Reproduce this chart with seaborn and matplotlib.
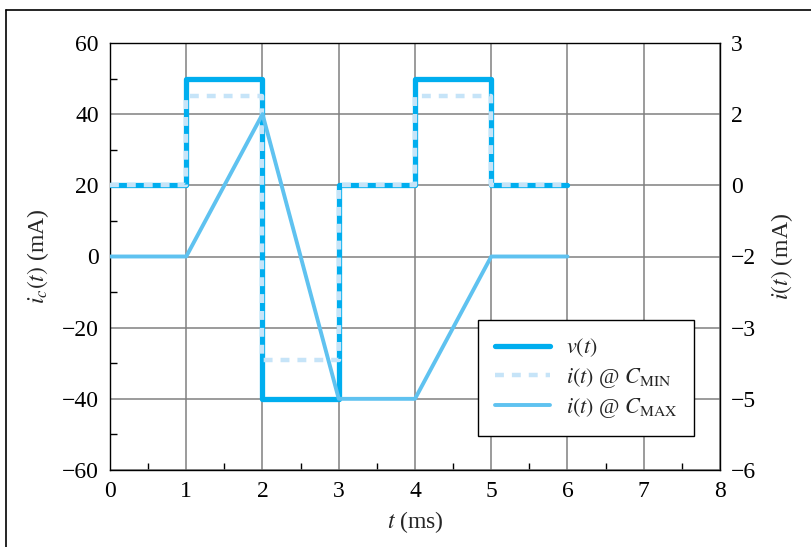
import numpy as np
import pandas as pd
import matplotlib
matplotlib.use("Agg")
import matplotlib.pyplot as plt
from matplotlib.lines import Line2D
from matplotlib.ticker import MultipleLocator, FixedLocator
import seaborn as sns

# Time breakpoints (ms) and waveform levels (left-axis units)
t_ms = [0, 1, 2, 3, 4, 5, 6]
v_levels = [20, 50, -40, 20, 50, 20, 20]
i_cmin = [20, 45, -29, 20, 45, 20, 20]
i_cmax = [0, 0, 40, -40, -40, 0, 0]

x_ticks = [0, 1, 2, 3, 4, 5, 6, 7, 8]
left_ticks = [-60, -40, -20, 0, 20, 40, 60]
right_labels = ["\u22126", "\u22125", "\u22123", "\u22122", "0", "2", "3"]

sns.set_theme(style="white")
plt.rcParams["font.family"] = ["Liberation Serif", "DejaVu Serif"]
plt.rcParams["mathtext.fontset"] = "stix"

c_v = "#00aeef"
c_min = "#c6e4f8"
c_max = "#5fc2f0"
FS = 17

df = pd.DataFrame({"t": t_ms, "v": v_levels, "cmin": i_cmin, "cmax": i_cmax})

fig = plt.figure(figsize=(8.12, 5.47), dpi=100)
ax = fig.add_axes([110 / 812, 1 - 470 / 547, 610 / 812, 427 / 547])

ax.grid(True, which="major", color="#808080", lw=1.1)
ax.set_axisbelow(True)

sns.lineplot(data=df, x="t", y="v", ax=ax, color=c_v, lw=3.8,
             drawstyle="steps-post", estimator=None, sort=False, zorder=3)
sns.lineplot(data=df, x="t", y="cmin", ax=ax, color=c_min, lw=3.2,
             drawstyle="steps-post", estimator=None, sort=False, zorder=4,
             dashes=False, linestyle=(0, (2.0, 1.8)))
sns.lineplot(data=df, x="t", y="cmax", ax=ax, color=c_max, lw=2.8,
             estimator=None, sort=False, zorder=5)

ax.set_xlim(0, 8)
ax.set_ylim(-60, 60)
ax.xaxis.set_major_locator(FixedLocator(x_ticks))
ax.xaxis.set_minor_locator(MultipleLocator(0.5))
ax.yaxis.set_major_locator(FixedLocator(left_ticks))
ax.yaxis.set_minor_locator(MultipleLocator(10))
ax.set_xticklabels([str(v) for v in x_ticks])
ax.set_yticklabels([str(v).replace("-", "\u2212") for v in left_ticks])

for sp in ax.spines.values():
    sp.set_color("black")
    sp.set_linewidth(1.0)

ax.tick_params(which="major", length=0, labelsize=FS, colors="black")
ax.tick_params(axis="x", which="major", pad=8)
ax.tick_params(axis="y", which="major", pad=8)
ax.tick_params(which="minor", direction="in", length=5, width=1.0,
               color="black", bottom=True, left=True)

ax.set_xlabel(r"$t$ (ms)", fontsize=FS, labelpad=5)
ax.set_ylabel(r"$i_c(t)$ (mA)", fontsize=FS, labelpad=8)

ax2 = ax.twinx()
ax2.set_ylim(-60, 60)
ax2.yaxis.set_major_locator(FixedLocator(left_ticks))
ax2.set_yticklabels(right_labels)
ax2.tick_params(which="major", length=0, labelsize=FS, pad=8, colors="black")
ax2.set_ylabel(r"$i(t)$ (mA)", fontsize=FS, labelpad=9)
for sp in ax2.spines.values():
    sp.set_visible(False)

handles = [
    Line2D([], [], color=c_v, lw=3.8),
    Line2D([], [], color=c_min, lw=3.2, linestyle=(0, (2.0, 1.8))),
    Line2D([], [], color=c_max, lw=2.8),
]
labels = [r"$v(t)$", r"$i(t)$ @ $C_{\mathrm{MIN}}$", r"$i(t)$ @ $C_{\mathrm{MAX}}$"]
leg = ax2.legend(handles, labels, loc="upper left",
                 bbox_to_anchor=((478 - 110) / 610, (470 - 320) / 427),
                 fontsize=16, frameon=True, fancybox=False, handlelength=2.5,
                 borderpad=0.75, labelspacing=0.28, handletextpad=0.7,
                 borderaxespad=0)
leg.get_frame().set_edgecolor("black")
leg.get_frame().set_linewidth(1.0)
leg.get_frame().set_alpha(1)
leg.set_zorder(10)

# Outer frame along the top and left edges of the figure
fig.add_artist(Line2D([6 / 812, 6 / 812], [0, 1 - 10 / 547],
                      transform=fig.transFigure, color="black", lw=1.2))
fig.add_artist(Line2D([6 / 812, 1], [1 - 10 / 547, 1 - 10 / 547],
                      transform=fig.transFigure, color="black", lw=1.2))

fig.savefig("out.png", dpi=100)
